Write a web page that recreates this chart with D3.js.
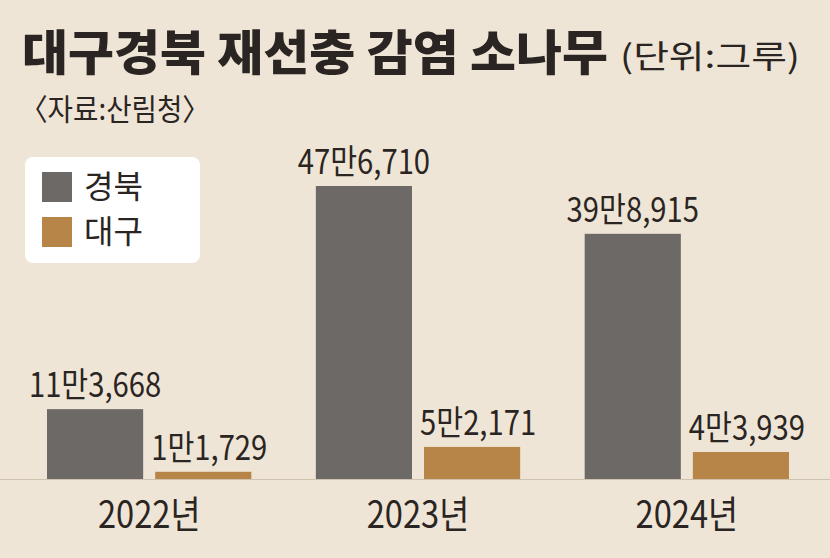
<!DOCTYPE html>
<html><head><meta charset="utf-8">
<script src="https://cdn.jsdelivr.net/npm/d3@7"></script>
<style>body{margin:0;background:#efe5d6}svg{display:block}</style>
</head><body><svg id="c" width="830" height="558"></svg>
<script>
var years = ["2022년", "2023년", "2024년"];
var gyeongbuk = [113668, 476710, 398915];
var daegu = [11729, 52171, 43939];
var gbLabels = ["11만3,668", "47만6,710", "39만8,915"];
var dgLabels = ["1만1,729", "5만2,171", "4만3,939"];
var font = "'Noto Sans CJK KR', sans-serif";

var svg = d3.select("#c");
svg.append("rect").attr("width", 830).attr("height", 558).attr("fill", "#efe5d6");

var x = d3.scaleBand().domain(years).range([47, 789]).paddingInner(0.24).paddingOuter(0);
var sub = d3.scaleBand().domain(["g", "d"]).range([0, x.bandwidth()]).paddingInner(0.111);
var y = d3.scaleLinear().domain([0, 476710]).range([479, 186]);

function cond(sel, cx, cy) {
  return sel.attr("transform", "translate(" + cx + "," + cy + ") scale(0.86,1)");
}

// title
svg.append("text").attr("x", 22).attr("y", 70).attr("font-family", font).attr("font-weight", 900)
  .attr("font-size", 48).attr("textLength", 586).attr("lengthAdjust", "spacingAndGlyphs")
  .attr("fill", "#2a2522").text("대구경북 재선충 감염 소나무");
svg.append("text").attr("x", 620).attr("y", 68).attr("font-family", font)
  .attr("font-size", 32).attr("textLength", 180).attr("lengthAdjust", "spacingAndGlyphs")
  .attr("fill", "#2a2522").text("(단위:그루)");
svg.append("text").attr("x", 20).attr("y", 120).attr("font-family", font)
  .attr("font-size", 30).attr("textLength", 190).attr("lengthAdjust", "spacingAndGlyphs")
  .attr("fill", "#2a2522").text("〈자료:산림청〉");

// legend
svg.append("rect").attr("x", 25).attr("y", 157).attr("width", 175).attr("height", 106)
  .attr("rx", 8).attr("fill", "#fff");
[["경북", "#6d6966"], ["대구", "#b68547"]].forEach(function(d, i) {
  svg.append("rect").attr("x", 42).attr("y", 172 + i * 45).attr("width", 30).attr("height", 30).attr("fill", d[1]);
  svg.append("text").attr("x", 84).attr("y", 198 + i * 45).attr("font-family", font)
    .attr("font-size", 32).attr("fill", "#2a2522").text(d[0]);
});

var g = svg.append("g");
years.forEach(function(yr, i) {
  var x0 = x(yr);
  g.append("rect").attr("x", x0 + sub("g")).attr("y", y(gyeongbuk[i]))
    .attr("width", sub.bandwidth()).attr("height", y(0) - y(gyeongbuk[i])).attr("fill", "#6d6966");
  g.append("rect").attr("x", x0 + sub("d")).attr("y", y(daegu[i]))
    .attr("width", sub.bandwidth()).attr("height", y(0) - y(daegu[i])).attr("fill", "#b68547");
  cond(g.append("text").attr("text-anchor", "middle").attr("font-family", font).attr("font-size", 34)
    .attr("fill", "#2a2522").text(gbLabels[i]), x0 + sub("g") + sub.bandwidth() / 2, y(gyeongbuk[i]) - 12);
  cond(g.append("text").attr("text-anchor", "middle").attr("font-family", font).attr("font-size", 34)
    .attr("fill", "#2a2522").text(dgLabels[i]), x0 + sub("d") + sub.bandwidth() / 2 + 6, y(daegu[i]) - 12);
  cond(g.append("text").attr("text-anchor", "middle").attr("font-family", font).attr("font-size", 38)
    .attr("fill", "#2a2522").text(yr), x0 + x.bandwidth() / 2, 528);
});
g.append("line").attr("x1", 0).attr("x2", 830).attr("y1", y(0) + 0.5).attr("y2", y(0) + 0.5)
  .attr("stroke", "#cfc2ae").attr("stroke-width", 1);
</script></body></html>
